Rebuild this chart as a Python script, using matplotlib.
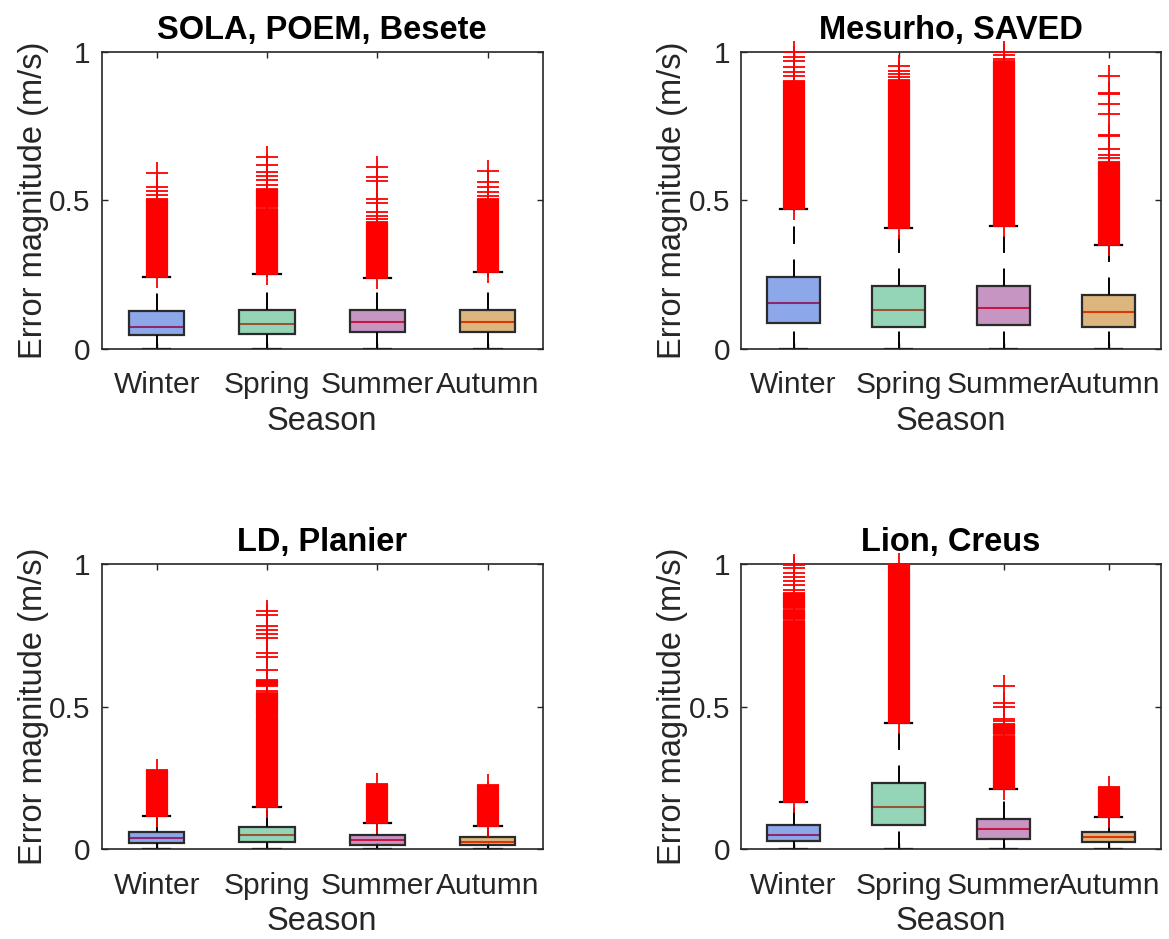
import matplotlib
matplotlib.use("Agg")
import matplotlib.pyplot as plt
from matplotlib.colors import to_rgba

plt.rcParams["font.family"] = ["Liberation Sans", "DejaVu Sans"]

seasons = ["Winter", "Spring", "Summer", "Autumn"]
titles = ["SOLA, POEM, Besete", "Mesurho, SAVED", "LD, Planier", "Lion, Creus"]

# fill colours of the boxes (drawn at 50% alpha, the red median shows through)
box_colors = ["#1d51d9", "#2dad71", "#912d87", "#bd6d01"]

# --- SOLA, POEM, Besete ---
sola_q1 = [0.044, 0.050, 0.054, 0.054]
sola_med = [0.074, 0.084, 0.088, 0.088]
sola_q3 = [0.125, 0.128, 0.128, 0.131]
sola_whishi = [0.241, 0.251, 0.238, 0.258]
sola_dense = [[(0.241, 0.505)], [(0.251, 0.470), (0.476, 0.538)],
              [(0.238, 0.425)], [(0.258, 0.505)]]
sola_sparse = [[0.517, 0.530, 0.543, 0.591],
               [0.551, 0.566, 0.580, 0.594, 0.617, 0.644],
               [0.435, 0.447, 0.458, 0.489, 0.502, 0.565, 0.578, 0.611],
               [0.514, 0.526, 0.543, 0.560, 0.597]]

# --- Mesurho, SAVED ---
mesu_q1 = [0.086, 0.074, 0.080, 0.074]
mesu_med = [0.154, 0.130, 0.136, 0.122]
mesu_q3 = [0.242, 0.209, 0.212, 0.181]
mesu_whishi = [0.470, 0.406, 0.412, 0.350]
mesu_dense = [[(0.470, 0.900)], [(0.406, 0.905)], [(0.412, 0.967)], [(0.350, 0.627)]]
mesu_sparse = [[0.916, 0.930, 0.949, 0.967, 0.983, 0.998],
               [0.913, 0.925, 0.936, 0.950],
               [0.976, 0.988, 0.998],
               [0.642, 0.650, 0.672, 0.717, 0.720, 0.790, 0.824, 0.857, 0.861, 0.919]]

# --- LD, Planier ---
ld_q1 = [0.021, 0.027, 0.015, 0.015]
ld_med = [0.040, 0.049, 0.033, 0.025]
ld_q3 = [0.060, 0.079, 0.050, 0.042]
ld_whishi = [0.117, 0.148, 0.091, 0.083]
ld_dense = [[(0.117, 0.278)], [(0.148, 0.463), (0.468, 0.549), (0.572, 0.593)],
            [(0.091, 0.228)], [(0.083, 0.194), (0.199, 0.225)]]
ld_sparse = [[], [0.556, 0.629, 0.674, 0.688, 0.740, 0.754, 0.769, 0.783, 0.822, 0.836],
             [], []]

# --- Lion, Creus ---
lion_q1 = [0.028, 0.085, 0.036, 0.026]
lion_med = [0.049, 0.148, 0.070, 0.043]
lion_q3 = [0.084, 0.231, 0.105, 0.062]
lion_whishi = [0.166, 0.444, 0.210, 0.114]
lion_dense = [[(0.166, 0.800), (0.806, 0.840), (0.846, 0.897)], [(0.444, 1.0)],
              [(0.210, 0.398), (0.404, 0.440)], [(0.114, 0.220)]]
lion_sparse = [[0.910, 0.925, 0.940, 0.955, 0.970, 0.985, 0.998], [],
               [0.448, 0.456, 0.500, 0.514, 0.573], []]

W, H = 1169, 939
# axes boxes in pixels: left, top, right, bottom
ax_px = [(101.5, 51.5, 543.0, 348.5), (741.0, 51.5, 1161.0, 348.5),
         (101.5, 564.0, 543.0, 849.3), (741.0, 564.0, 1161.0, 849.3)]

TXT = "#262626"


def draw_panel(ax, title, q1, med, q3, whishi, dense, sparse):
	stats = []
	for a, m, b, h in zip(q1, med, q3, whishi):
		stats.append(dict(med=m, q1=a, q3=b, whislo=0.0, whishi=h, fliers=[]))
	bp = ax.bxp(stats, positions=[1, 2, 3, 4], widths=0.5, patch_artist=True,
	            showfliers=False,
	            boxprops=dict(edgecolor="#2b2b2b", linewidth=1.6),
	            whiskerprops=dict(color="black", linewidth=1.4, linestyle=(0, (9, 8))),
	            capprops=dict(color="black", linewidth=1.6),
	            medianprops=dict(color="red", linewidth=1.5))
	for patch, c in zip(bp["boxes"], box_colors):
		patch.set_facecolor(to_rgba(c, 0.5))
		patch.set_zorder(2)
	for line in bp["medians"]:
		line.set_zorder(1.9)
	# lower whiskers: let the dash pattern start at the bottom end
	for line in bp["whiskers"][0::2]:
		line.set_ydata(line.get_ydata()[::-1])

	# outliers: dense runs look like a solid red bar, sparse ones as '+'
	for i, (ranges, pts) in enumerate(zip(dense, sparse)):
		x = i + 1
		for lo, hi in ranges:
			ax.plot([x, x], [lo, hi], color="red", lw=16, solid_capstyle="butt",
			        zorder=3, clip_on=False)
			ax.plot([x, x], [lo, hi], ls="none", marker="+", ms=16.5, mew=1.3,
			        color="red", zorder=3, clip_on=False)
		if pts:
			ax.plot([x] * len(pts), pts, ls="none", marker="+", ms=16.5, mew=1.3,
			        color="red", zorder=3, clip_on=False)

	ax.set_xlim(0.5, 4.5)
	ax.set_ylim(0, 1)
	ax.set_xticks([1, 2, 3, 4])
	ax.set_xticklabels(seasons)
	ax.set_yticks([0, 0.5, 1])
	ax.set_yticklabels(["0", "0.5", "1"])
	ax.tick_params(axis="both", direction="in", top=True, right=True, length=4,
	               width=1.0, colors=TXT, labelsize=21.5)
	ax.tick_params(axis="x", pad=16)
	ax.tick_params(axis="y", pad=8)
	for sp in ax.spines.values():
		sp.set_color(TXT)
		sp.set_linewidth(1.2)
	ax.set_xlabel("Season", fontsize=23.5, color=TXT, labelpad=5)
	ax.set_ylabel("Error magnitude (m/s)", fontsize=23.5, color=TXT, labelpad=0)
	ax.set_title(title, fontsize=23.5, fontweight="bold", pad=9)


fig = plt.figure(figsize=(W / 100, H / 100), dpi=100)
panel_data = [
	(sola_q1, sola_med, sola_q3, sola_whishi, sola_dense, sola_sparse),
	(mesu_q1, mesu_med, mesu_q3, mesu_whishi, mesu_dense, mesu_sparse),
	(ld_q1, ld_med, ld_q3, ld_whishi, ld_dense, ld_sparse),
	(lion_q1, lion_med, lion_q3, lion_whishi, lion_dense, lion_sparse),
]
for (l, t, r, b), title, data in zip(ax_px, titles, panel_data):
	ax = fig.add_axes([l / W, 1 - b / H, (r - l) / W, (b - t) / H])
	draw_panel(ax, title, *data)

fig.savefig("out.png", dpi=100, facecolor="white")
